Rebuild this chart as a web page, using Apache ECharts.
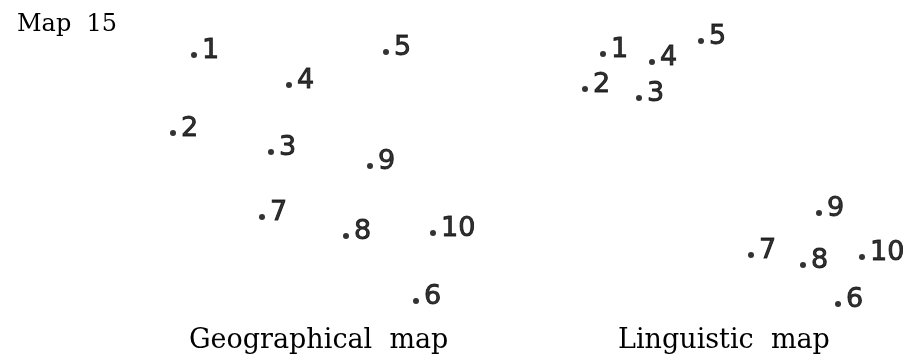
<!DOCTYPE html>
<html>
<head>
<meta charset="utf-8">
<title>Map 15</title>
<script src="https://cdn.jsdelivr.net/npm/echarts@6/dist/echarts.min.js"></script>
<style>
  html, body { margin: 0; padding: 0; background: #ffffff; }
  #chart { width: 903px; height: 360px; }
</style>
</head>
<body>
<div id="chart"></div>
<script>
// Point numbers shared by both maps
const pointIds = ['1', '2', '3', '4', '5', '6', '7', '8', '9', '10'];

// Geographical map coordinates (x: east, y: north)
const geoX = [4.4, 2.3, 12.1, 13.9, 23.6, 26.6, 11.2, 19.6, 22.0, 28.3];
const geoY = [26.5, 18.7, 16.8, 23.5, 26.8, 1.9, 10.3, 8.4, 15.4, 8.7];

// Linguistic map coordinates (scaled distances)
const lingX = [4.3, 2.5, 7.9, 9.2, 14.1, 27.8, 19.1, 24.3, 25.9, 30.2];
const lingY = [26.6, 23.1, 22.2, 25.8, 27.9, 1.6, 6.5, 5.5, 10.7, 6.3];

// Titles
const figureTitle = 'Map  15';
const geoTitle = 'Geographical  map';
const lingTitle = 'Linguistic  map';

function pairs(xs, ys) {
  return pointIds.map((id, i) => ({ name: id, value: [xs[i], ys[i]] }));
}

const chart = echarts.init(document.getElementById('chart'), null, { renderer: 'canvas' });

const serifText = {
  fontFamily: 'DejaVu Serif',
  fontWeight: 'normal',
  color: '#000000'
};

const hiddenAxis = {
  type: 'value',
  show: false,
  splitLine: { show: false }
};

// Hand-lettered point numbers: a little heavier than the regular face
const pointLabel = {
  show: true,
  position: 'right',
  distance: 5,
  offset: [0, -4],
  formatter: p => p.name,
  fontFamily: 'DejaVu Sans',
  fontSize: 27,
  color: '#000000',
  textBorderColor: '#000000',
  textBorderWidth: 0.9
};

chart.setOption({
  backgroundColor: '#ffffff',
  animation: false,
  title: [
    { text: figureTitle, left: 12, top: 8, textStyle: Object.assign({ fontSize: 24 }, serifText) },
    { text: geoTitle, left: 184, top: 322, textStyle: Object.assign({ fontSize: 27 }, serifText) },
    { text: lingTitle, left: 613, top: 322, textStyle: Object.assign({ fontSize: 27 }, serifText) }
  ],
  grid: [
    { left: 150, top: 20, width: 300, height: 300 },
    { left: 560, top: 20, width: 330, height: 300 }
  ],
  xAxis: [
    Object.assign({ gridIndex: 0, min: 0, max: 30 }, hiddenAxis),
    Object.assign({ gridIndex: 1, min: 0, max: 33 }, hiddenAxis)
  ],
  yAxis: [
    Object.assign({ gridIndex: 0, min: 0, max: 30 }, hiddenAxis),
    Object.assign({ gridIndex: 1, min: 0, max: 30 }, hiddenAxis)
  ],
  series: [
    {
      name: 'Geographical map',
      type: 'scatter',
      xAxisIndex: 0,
      yAxisIndex: 0,
      symbol: 'circle',
      symbolSize: 6,
      itemStyle: { color: '#000000' },
      label: pointLabel,
      data: pairs(geoX, geoY)
    },
    {
      name: 'Linguistic map',
      type: 'scatter',
      xAxisIndex: 1,
      yAxisIndex: 1,
      symbol: 'circle',
      symbolSize: 6,
      itemStyle: { color: '#000000' },
      label: pointLabel,
      data: pairs(lingX, lingY)
    }
  ]
});
</script>
</body>
</html>
